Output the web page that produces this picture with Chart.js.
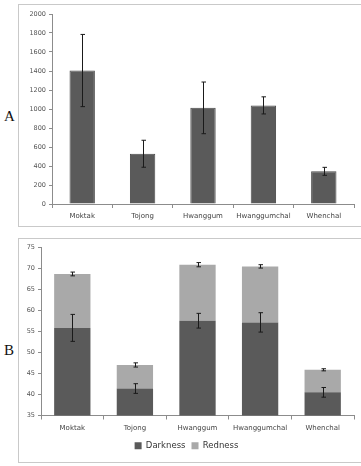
<!DOCTYPE html>
<html>
<head>
<meta charset="utf-8">
<script src="https://cdn.jsdelivr.net/npm/chart.js@4.4.0/dist/chart.umd.min.js"></script>
<style>
  body { margin: 0; background: #fff; width: 361px; height: 466px; overflow: hidden; position: relative; }
  .box { position: absolute; left: 18px; width: 360px; border: 1px solid #c9c9c9; }
  .tag { position: absolute; left: 4px; font: 15px "Liberation Serif", serif; color: #111; }
  canvas { position: absolute; left: 0; top: 0; }
</style>
</head>
<body>
<div class="tag" style="top:108px">A</div>
<div class="tag" style="top:342px">B</div>
<div class="box" id="boxA" style="top:4px;height:221px"><canvas id="chartA" width="343" height="221"></canvas></div>
<div class="box" id="boxB" style="top:238px;height:223px"><canvas id="chartB" width="343" height="223"></canvas></div>
<script>
// categories
var cultivars = ["Moktak", "Tojong", "Hwanggum", "Hwanggumchal", "Whenchal"];

// panel A
var valuesA = [1405, 529, 1012, 1038, 344];
var errA = [380, 142, 272, 90, 42];
var ticksA = [0, 200, 400, 600, 800, 1000, 1200, 1400, 1600, 1800, 2000];

// panel B (stacked: redness sits on top of darkness)
var darkness = [55.8, 41.4, 57.5, 57.1, 40.5];
var darknessErr = [3.2, 1.15, 1.75, 2.3, 1.15];
var redness = [12.8, 5.6, 13.3, 13.3, 5.35];
var rednessErr = [0.45, 0.5, 0.5, 0.4, 0.25];
var ticksB = [35, 40, 45, 50, 55, 60, 65, 70, 75];

Chart.defaults.font.family = "DejaVu Sans";
Chart.defaults.color = "#444";
Chart.defaults.animation = false;

// draws +/- error bars on top of every bar, via the chart's y scale
var errorBars = {
  id: "errorBars",
  afterDatasetsDraw: function(chart) {
    var ctx = chart.ctx;
    var y = chart.scales.y;
    ctx.save();
    ctx.strokeStyle = "#1a1a1a";
    ctx.lineWidth = 1;
    chart.data.datasets.forEach(function(ds, di) {
      if (!ds.err) return;
      var meta = chart.getDatasetMeta(di);
      meta.data.forEach(function(bar, i) {
        var v = y.getValueForPixel(bar.y);
        var hi = y.getPixelForValue(v + ds.err[i]);
        var lo = y.getPixelForValue(v - ds.err[i]);
        var x = Math.round(bar.x) + 0.5;
        ctx.beginPath();
        ctx.moveTo(x, hi); ctx.lineTo(x, lo);
        ctx.moveTo(x - 2, hi); ctx.lineTo(x + 2.5, hi);
        ctx.moveTo(x - 2, lo); ctx.lineTo(x + 2.5, lo);
        ctx.stroke();
      });
    });
    ctx.restore();
  }
};

function yAxis(ticks, w) {
  return {
    min: ticks[0],
    max: ticks[ticks.length - 1],
    afterBuildTicks: function(s) { s.ticks = ticks.map(function(t) { return { value: t }; }); },
    afterFit: function(s) { s.width = w; },
    ticks: {
      font: { size: 6.5 }, color: "#555", padding: 3,
      callback: function(v) { return String(v); }
    },
    grid: { drawOnChartArea: false, tickLength: 3, color: "#8c8c8c" },
    border: { color: "#8c8c8c" }
  };
}

function xAxis(h) {
  return {
    afterFit: function(s) { s.height = h; },
    ticks: { font: { size: 7 }, color: "#444", padding: 4, maxRotation: 0, autoSkip: false },
    grid: { drawOnChartArea: false, tickLength: 4, color: "#8c8c8c" },
    border: { color: "#8c8c8c" }
  };
}

new Chart(document.getElementById("chartA"), {
  type: "bar",
  data: {
    labels: cultivars,
    datasets: [{
      label: "A",
      data: valuesA,
      err: errA,
      backgroundColor: "#5a5a5a",
      borderColor: "#4a4a4a",
      borderWidth: 1,
      barPercentage: 0.42,
      categoryPercentage: 1
    }]
  },
  options: {
    responsive: false,
    devicePixelRatio: 1,
    layout: { padding: { top: 9, right: 8, left: 0, bottom: 0 } },
    plugins: { legend: { display: false }, tooltip: { enabled: false } },
    scales: { x: xAxis(22), y: yAxis(ticksA, 33) }
  },
  plugins: [errorBars]
});

new Chart(document.getElementById("chartB"), {
  type: "bar",
  data: {
    labels: cultivars,
    datasets: [{
      label: "Darkness",
      data: darkness,
      err: darknessErr,
      backgroundColor: "#5a5a5a",
      barPercentage: 0.58,
      categoryPercentage: 1
    }, {
      label: "Redness",
      data: redness,
      err: rednessErr,
      backgroundColor: "#a9a9a9",
      barPercentage: 0.58,
      categoryPercentage: 1
    }]
  },
  options: {
    responsive: false,
    devicePixelRatio: 1,
    layout: { padding: { top: 8, right: 8, left: 0, bottom: 2 } },
    plugins: {
      legend: {
        position: "bottom",
        labels: { boxWidth: 7, boxHeight: 7, padding: 6, color: "#333", font: { size: 8.5 } }
      },
      tooltip: { enabled: false }
    },
    scales: {
      x: Object.assign(xAxis(20), { stacked: true }),
      y: Object.assign(yAxis(ticksB, 22), { stacked: true })
    }
  },
  plugins: [errorBars]
});
</script>
</body>
</html>
